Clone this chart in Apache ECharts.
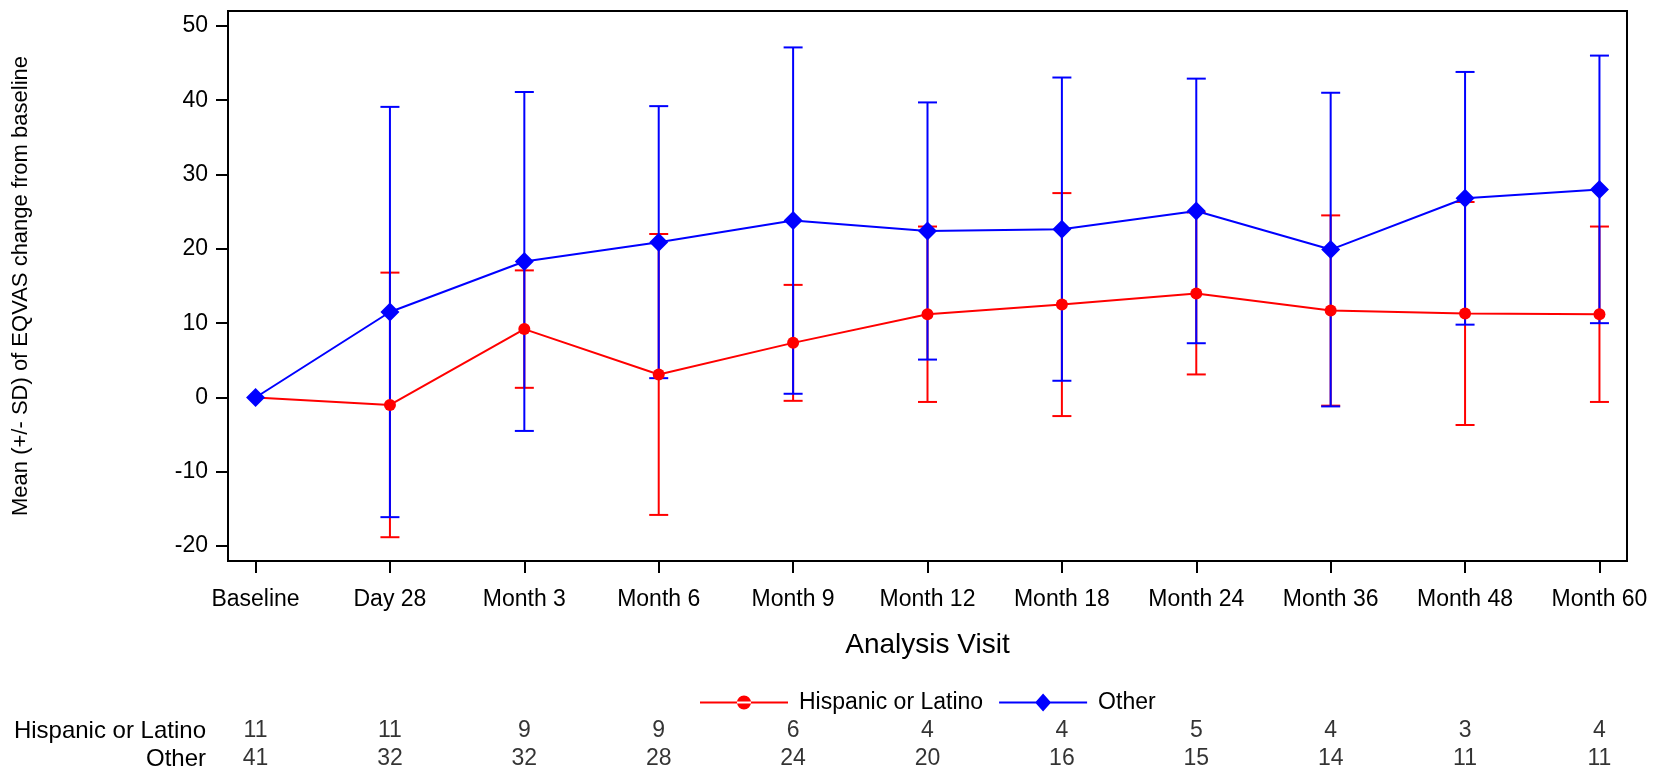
<!DOCTYPE html>
<html>
<head>
<meta charset="utf-8">
<script src="https://cdn.jsdelivr.net/npm/echarts@6/dist/echarts.min.js"></script>
<style>
html,body{margin:0;padding:0;background:#fff;}
#chart{width:1657px;height:771px;}
</style>
</head>
<body>
<div id="chart"></div>
<script>
// ---- data ----
const categories = ['Baseline','Day 28','Month 3','Month 6','Month 9','Month 12','Month 18','Month 24','Month 36','Month 48','Month 60'];
const hispMean = [0, -1.0, 9.2, 3.1, 7.35, 11.2, 12.5, 14.0, 11.7, 11.3, 11.2];
const hispSD   = [null, 17.8, 7.9, 18.9, 7.8, 11.8, 15.0, 10.9, 12.8, 15.0, 11.8];
const otherMean = [0, 11.5, 18.3, 20.9, 23.8, 22.4, 22.65, 25.1, 19.9, 26.8, 28.0];
const otherSD   = [null, 27.6, 22.8, 18.3, 23.3, 17.3, 20.4, 17.8, 21.1, 17.0, 18.0];
const hispN  = [11, 11, 9, 9, 6, 4, 4, 5, 4, 3, 4];
const otherN = [41, 32, 32, 28, 24, 20, 16, 15, 14, 11, 11];
const yTicks = [-20, -10, 0, 10, 20, 30, 40, 50];
const groupNames = ['Hispanic or Latino', 'Other'];

// ---- build ----
const FONT = 'Liberation Sans, Arial, sans-serif';
const RED = '#ff0000', BLUE = '#0000ff';
const xIdx = categories.map((c, i) => i);

// legend icons: line + marker, drawn in an 88 x 20 box
const LINE_PATH = 'M0 0 L0.01 0 L0.01 0.01 Z M88 20 L87.99 20 L87.99 19.99 Z M0 9 L88 9 L88 11 L0 11 Z ';
const ICON_CIRCLE = 'path://' + LINE_PATH + 'M37 10 A7 7 0 1 0 51 10 A7 7 0 1 0 37 10 Z';
const ICON_DIAMOND = 'path://' + LINE_PATH + 'M44 1 L52 10 L44 19 L36 10 Z';

function lineData(means) { return means.map((m, i) => [i, m]); }
function barData(means, sds) {
  const out = [];
  means.forEach((m, i) => { if (sds[i] != null) out.push([i, m - sds[i], m + sds[i]]); });
  return out;
}
function errRender(color) {
  return function (params, api) {
    const x = api.value(0);
    const lo = api.coord([x, api.value(1)]);
    const hi = api.coord([x, api.value(2)]);
    const hw = 9.5;
    const st = { stroke: color, lineWidth: 2 };
    return {
      type: 'group',
      children: [
        { type: 'line', shape: { x1: lo[0], y1: lo[1], x2: hi[0], y2: hi[1] }, style: st },
        { type: 'line', shape: { x1: lo[0] - hw, y1: lo[1], x2: lo[0] + hw, y2: lo[1] }, style: st },
        { type: 'line', shape: { x1: hi[0] - hw, y1: hi[1], x2: hi[0] + hw, y2: hi[1] }, style: st }
      ]
    };
  };
}

const xMin = -0.205, xMax = 10.205;
const tableRows = [];
hispN.forEach((n, i) => tableRows.push([i, groupNames[0], n]));
otherN.forEach((n, i) => tableRows.push([i, groupNames[1], n]));

const chart = echarts.init(document.getElementById('chart'), null, { renderer: 'canvas' });
chart.setOption({
  animation: false,
  textStyle: { fontFamily: FONT, color: '#000' },
  grid: [
    { left: 228, right: 30, top: 11, bottom: 210, show: true, borderColor: '#000', borderWidth: 2, backgroundColor: '#fff' },
    { left: 228, right: 30, top: 731, height: 30 }
  ],
  legend: {
    left: 695, top: 686,
    itemWidth: 88, itemHeight: 20, itemGap: 16,
    textStyle: { fontFamily: FONT, fontSize: 23, color: '#000', padding: [0, 0, 0, 6] },
    data: [
      { name: groupNames[0], icon: ICON_CIRCLE, itemStyle: { color: RED } },
      { name: groupNames[1], icon: ICON_DIAMOND, itemStyle: { color: BLUE } }
    ]
  },
  xAxis: [
    {
      type: 'value', gridIndex: 0, min: xMin, max: xMax,
      name: 'Analysis Visit', nameLocation: 'middle', nameGap: 70,
      nameTextStyle: { fontFamily: FONT, fontSize: 28, color: '#000' },
      axisLine: { show: true, onZero: false, lineStyle: { color: '#000', width: 2 } },
      axisTick: { show: true, inside: false, length: 12, customValues: xIdx, lineStyle: { color: '#000', width: 2 } },
      axisLabel: { show: true, margin: 27, customValues: xIdx, fontSize: 23, color: '#000', fontFamily: FONT,
        formatter: v => categories[Math.round(v)] },
      splitLine: { show: false }
    },
    {
      type: 'value', gridIndex: 1, min: xMin, max: xMax, show: false
    }
  ],
  yAxis: [
    {
      type: 'value', gridIndex: 0, min: -22, max: 52,
      name: 'Mean (+/- SD) of EQVAS change from baseline', nameLocation: 'middle', nameGap: 196,
      nameTextStyle: { fontFamily: FONT, fontSize: 22, color: '#000' },
      axisLine: { show: true, onZero: false, lineStyle: { color: '#000', width: 2 } },
      axisTick: { show: true, inside: false, length: 12, customValues: yTicks, lineStyle: { color: '#000', width: 2 } },
      axisLabel: { show: true, margin: 20, customValues: yTicks, fontSize: 23, color: '#000', fontFamily: FONT },
      splitLine: { show: false }
    },
    {
      type: 'category', gridIndex: 1, data: groupNames, inverse: true, boundaryGap: false,
      axisLine: { show: false }, axisTick: { show: false }, splitLine: { show: false },
      axisLabel: { show: true, interval: 0, margin: 22, fontSize: 24, color: '#000', fontFamily: FONT }
    }
  ],
  series: [
    {
      type: 'custom', name: 'hispErr', xAxisIndex: 0, yAxisIndex: 0, z: 1,
      renderItem: errRender(RED), data: barData(hispMean, hispSD), encode: { x: 0, y: [1, 2] }, silent: true
    },
    {
      type: 'custom', name: 'otherErr', xAxisIndex: 0, yAxisIndex: 0, z: 2,
      renderItem: errRender(BLUE), data: barData(otherMean, otherSD), encode: { x: 0, y: [1, 2] }, silent: true
    },
    {
      type: 'line', name: groupNames[0], xAxisIndex: 0, yAxisIndex: 0, z: 3,
      data: lineData(hispMean), symbol: 'circle', symbolSize: 12, showAllSymbol: true,
      lineStyle: { color: RED, width: 2 }, itemStyle: { color: RED }
    },
    {
      type: 'line', name: groupNames[1], xAxisIndex: 0, yAxisIndex: 0, z: 4,
      data: lineData(otherMean), symbol: 'diamond', symbolSize: 19, showAllSymbol: true,
      lineStyle: { color: BLUE, width: 2 }, itemStyle: { color: BLUE }
    },
    {
      type: 'scatter', name: 'table', xAxisIndex: 1, yAxisIndex: 1,
      data: tableRows, symbolSize: 0, silent: true,
      label: { show: true, position: 'inside', fontSize: 23, color: '#000', fontFamily: FONT,
        formatter: p => String(p.value[2]) }
    }
  ]
});
</script>
</body>
</html>
